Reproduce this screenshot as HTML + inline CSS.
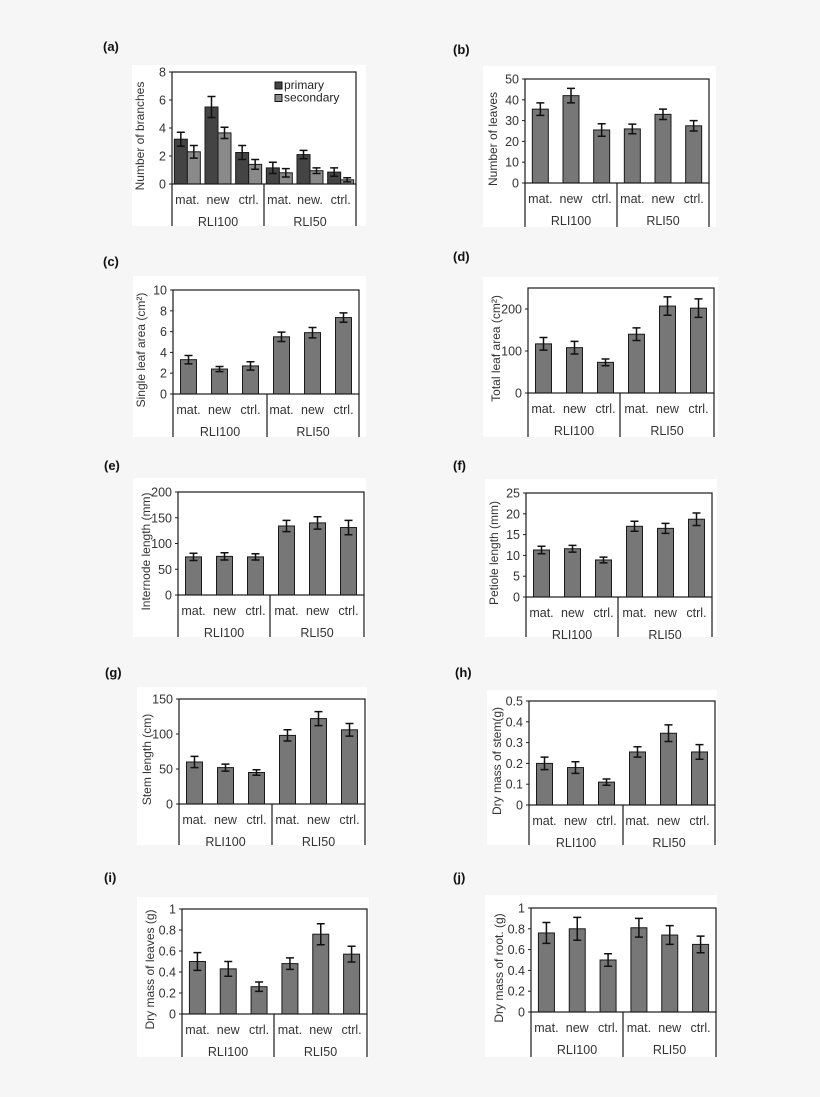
<!DOCTYPE html>
<html><head><meta charset="utf-8"><style>
html,body{margin:0;padding:0;background:#f6f6f6;}
svg{display:block;font-family:"Liberation Sans",Arial,sans-serif;}
</style></head><body>
<svg id="fig" width="820" height="1097" viewBox="0 0 820 1097"></svg>
<script>
const categories=["mat.","new","ctrl.","mat.","new","ctrl."];
const categoriesA=["mat.","new","ctrl.","mat.","new.","ctrl."];
const groups=["RLI100","RLI50"];
const aPrimary=[3.2,5.5,2.25,1.15,2.1,0.85];
const aPrimaryErr=[0.5,0.75,0.5,0.4,0.3,0.3];
const aSecondary=[2.3,3.65,1.4,0.8,0.95,0.3];
const aSecondaryErr=[0.45,0.4,0.35,0.3,0.2,0.15];
const bVals=[35.5,42,25.5,26,33,27.5];
const bErr=[3,3.5,3,2.3,2.5,2.5];
const cVals=[3.3,2.4,2.7,5.5,5.9,7.35];
const cErr=[0.4,0.25,0.4,0.45,0.5,0.45];
const dVals=[117,108,73,140,207,202];
const dErr=[15,15,8,15,22,22];
const eVals=[74,75,74,134,140,131];
const eErr=[7,7,6,11,12,14];
const fVals=[11.3,11.6,8.9,17,16.5,18.7];
const fErr=[0.9,0.8,0.7,1.2,1.2,1.5];
const gVals=[60,52,45,98,122,106];
const gErr=[8,5,4,8,10,9];
const hVals=[0.2,0.18,0.11,0.255,0.345,0.255];
const hErr=[0.03,0.028,0.015,0.025,0.04,0.035];
const iVals=[0.5,0.43,0.26,0.48,0.76,0.57];
const iErr=[0.085,0.07,0.045,0.055,0.1,0.075];
const jVals=[0.76,0.8,0.5,0.81,0.74,0.65];
const jErr=[0.1,0.11,0.06,0.09,0.09,0.08];
const aTicks=["0","2","4","6","8"];
const bTicks=["0","10","20","30","40","50"];
const cTicks=["0","2","4","6","8","10"];
const dTicks=["0","100","200"];
const eTicks=["0","50","100","150","200"];
const fTicks=["0","5","10","15","20","25"];
const gTicks=["0","50","100","150"];
const hTicks=["0","0.1","0.2","0.3","0.4","0.5"];
const iTicks=["0","0.2","0.4","0.6","0.8","1"];

const NS="http://www.w3.org/2000/svg";
const svg=document.getElementById('fig');
function mk(tag,attrs,parent){const e=document.createElementNS(NS,tag);for(const k in attrs)e.setAttribute(k,attrs[k]);(parent||svg).appendChild(e);return e;}

const panels=[
 {id:'a',label:'(a)',lx:103,ly:51,wb:[132,65,234,161],L:172,R:356,T:72,B:184,D:264,E:226,max:8,ticks:aTicks,ylab:'Number of branches',series:[[aPrimary,aPrimaryErr,'#444'],[aSecondary,aSecondaryErr,'#8a8a8a']],cats:categoriesA,legend:true},
 {id:'b',label:'(b)',lx:453,ly:54,wb:[483,66,233,161],L:525,R:709,T:79,B:183,D:617,E:227,max:50,ticks:bTicks,ylab:'Number of leaves',series:[[bVals,bErr,'#777']],cats:categories},
 {id:'c',label:'(c)',lx:103,ly:266,wb:[133,276,233,161],L:173,R:359,T:290,B:394,D:267,E:437,max:10,ticks:cTicks,ylab:'Single leaf area (cm²)',series:[[cVals,cErr,'#777']],cats:categories},
 {id:'d',label:'(d)',lx:453,ly:261,wb:[483,277,235,160],L:528,R:714,T:288,B:393,D:620,E:437,max:250,ticks:dTicks,tickStep:100,ylab:'Total leaf area (cm²)',series:[[dVals,dErr,'#777']],cats:categories},
 {id:'e',label:'(e)',lx:104,ly:470,wb:[133,478,233,159],L:178,R:364,T:492,B:595,D:270,E:637,max:200,ticks:eTicks,ylab:'Internode length (mm)',series:[[eVals,eErr,'#777']],cats:categories},
 {id:'f',label:'(f)',lx:453,ly:470,wb:[485,479,232,158],L:526,R:712,T:493,B:597,D:618,E:637,max:25,ticks:fTicks,ylab:'Petiole length (mm)',series:[[fVals,fErr,'#777']],cats:categories},
 {id:'g',label:'(g)',lx:105,ly:677,wb:[137,687,230,158],L:179,R:365,T:699,B:804,D:272,E:845,max:150,ticks:gTicks,ylab:'Stem length (cm)',series:[[gVals,gErr,'#777']],cats:categories},
 {id:'h',label:'(h)',lx:455,ly:677,wb:[487,690,230,155],L:529,R:715,T:701,B:805,D:623,E:845,max:0.5,ticks:hTicks,ylab:'Dry mass of stem(g)',series:[[hVals,hErr,'#777']],cats:categories},
 {id:'i',label:'(i)',lx:104,ly:882,wb:[137,897,232,160],L:182,R:367,T:909,B:1014,D:274,E:1057,max:1,ticks:iTicks,ylab:'Dry mass of leaves (g)',series:[[iVals,iErr,'#777']],cats:categories},
 {id:'j',label:'(j)',lx:453,ly:882,wb:[485,895,232,162],L:531,R:716,T:908,B:1012,D:623,E:1057,max:1,ticks:iTicks,ylab:'Dry mass of root. (g)',series:[[jVals,jErr,'#777']],cats:categories}
];

panels.forEach(p=>{
  const g=mk('g',{});
  
  
  const bg=mk('rect',{x:p.wb[0],y:p.wb[1],width:p.wb[2],height:p.wb[3],fill:'#fff'},g);
  
  
  const pl=mk('text',{x:p.lx,y:p.ly,'font-size':13,'font-weight':'bold',fill:'#111'},g);
  pl.textContent=p.label;
  
  
  const y=v=>p.B-(v/p.max)*(p.B-p.T);
  const step=p.tickStep||(p.max/(p.ticks.length-1));
  p.ticks.forEach((t,k)=>{
    const yy=y(k*step);
    mk('line',{x1:p.L-3,x2:p.L,y1:yy,y2:yy,stroke:'#222','stroke-width':1},g);
    const tt=mk('text',{x:p.L-6,y:yy+4.5,'font-size':12.5,'text-anchor':'end',fill:'#333'},g);
    tt.textContent=t;
    
    
  });
  const slot=(p.R-p.L)/6;
  const ns=p.series.length;
  const bw=ns===1?16:13;
  p.series.forEach((s,si)=>{
    s[0].forEach((v,k)=>{
      const cx=p.L+slot*(k+0.5)+(ns===1?0:(si===0?-bw/2:bw/2));
      const r=mk('rect',{x:cx-bw/2,y:y(v),width:bw,height:p.B-y(v),fill:s[2],stroke:'#1a1a1a','stroke-width':1},g);
      
      
      const e=s[1][k];
      const ep=mk('path',{d:`M${cx},${y(v+e)}V${y(v-e)}M${cx-4},${y(v+e)}H${cx+4}M${cx-4},${y(v-e)}H${cx+4}`,stroke:'#111','stroke-width':1.5,fill:'none'},g);
      
      
    });
  });
  const fr=mk('rect',{x:p.L,y:p.T,width:p.R-p.L,height:p.B-p.T,fill:'none',stroke:'#1a1a1a','stroke-width':1.2},g);
  
  
  mk('path',{d:`M${p.L},${p.B}V${p.E}M${p.R},${p.B}V${p.E}M${p.D},${p.B}V${p.E}`,stroke:'#1a1a1a','stroke-width':1.2,fill:'none'},g);
  p.cats.forEach((c,k)=>{
    const t=mk('text',{x:p.L+slot*(k+0.5),y:p.B+20,'font-size':12.5,'text-anchor':'middle',fill:'#333'},g);
    t.textContent=c;
    
    
  });
  groups.forEach((gr,k)=>{
    const cx=k===0?(p.L+p.D)/2:(p.D+p.R)/2;
    const t=mk('text',{x:cx,y:p.B+42,'font-size':12.5,'text-anchor':'middle',fill:'#333'},g);
    t.textContent=gr;
    
    
  });
  const yl=mk('text',{x:0,y:0,'font-size':12,'text-anchor':'middle',fill:'#333',transform:`translate(${p.L-28},${(p.T+p.B)/2+8}) rotate(-90)`},g);
  yl.textContent=p.ylab;
  
  
  if(p.legend){
    const lg=mk('g',{},g);
    
    
    [['primary','#444'],['secondary','#8a8a8a']].forEach((it,k)=>{
      mk('rect',{x:275,y:82+k*12.5,width:7,height:7,fill:it[1],stroke:'#111','stroke-width':1},lg);
      const t=mk('text',{x:284,y:89+k*12.5,'font-size':12,fill:'#222'},lg);
      t.textContent=it[0];
      
      
    });
  }
});
</script>
</body></html>
